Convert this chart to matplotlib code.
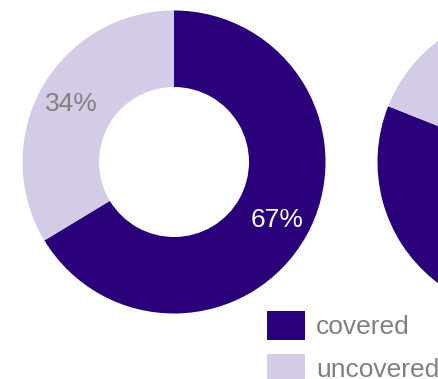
import matplotlib.pyplot as plt

plt.rcParams['font.family'] = ['Liberation Sans', 'DejaVu Sans']

# Data
categories = ["covered", "uncovered"]
left_values = [67, 34]
right_values = [81, 19]

dark = "#2a007a"
light = "#d4cce6"
grey = "#808080"

fig = plt.figure(figsize=(4.39, 3.79), dpi=100)
ax = fig.add_axes([0, 0, 1, 1])

R = 151.5
ring = 76.5


def donut(values, cx, cy):
    total = sum(values)
    wedges, texts, autotexts = ax.pie(
        values, colors=[dark, light], startangle=90, counterclock=False,
        center=(cx, cy), radius=R, wedgeprops=dict(width=ring, linewidth=0),
        autopct=lambda p: "%d%%" % round(p * total / 100.0),
        pctdistance=0.78, textprops=dict(fontsize=19), frame=True)
    autotexts[0].set_color("white")
    autotexts[1].set_color(grey)
    return wedges


w = donut(left_values, 174, 217)
donut(right_values, 529, 217)

# pie(frame=True) resets limits, set them again
ax.set_xlim(0, 439)
ax.set_ylim(0, 379)
ax.set_aspect('equal')
ax.set_axis_off()

leg = ax.legend(w, categories, loc="upper left", bbox_to_anchor=(267 / 439, 1 - 311 / 379),
                frameon=False, fontsize=19, handlelength=1.45, handleheight=1.32,
                handletextpad=0.4, labelspacing=0.53, borderpad=0, borderaxespad=0)
for t in leg.get_texts():
    t.set_color(grey)

fig.savefig("out.png", dpi=100)
